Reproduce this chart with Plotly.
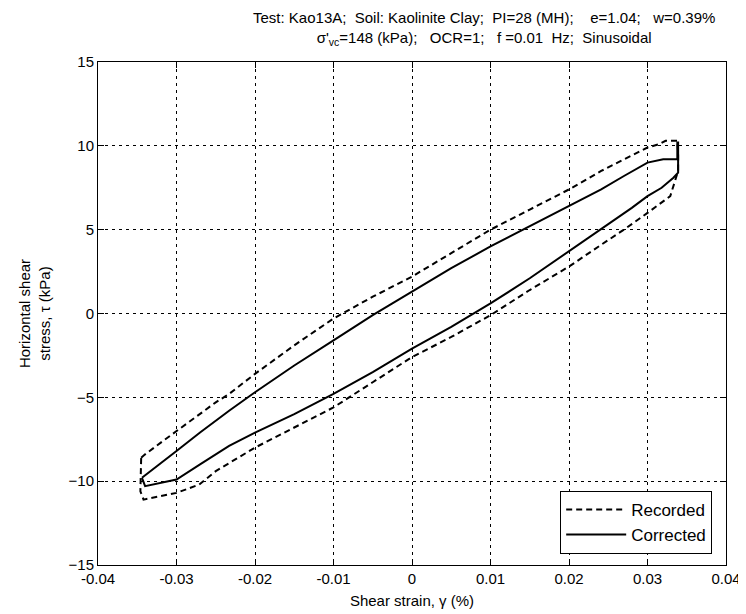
import plotly.graph_objects as go

# Recorded loop (dashed)
rec_x = [-0.0345, -0.0340, -0.0320, -0.0300, -0.0270, -0.0250, -0.0233, -0.0200, -0.0150, -0.0100,
         -0.0050, 0.0000, 0.0050, 0.0100, 0.0150, 0.0200, 0.0241, 0.0270, 0.0300, 0.0315,
         0.0323, 0.0338, 0.0339, 0.0339, 0.0337, 0.0329, 0.0300, 0.0270, 0.0241, 0.0200,
         0.0150, 0.0100, 0.0050, 0.0000, -0.0050, -0.0100, -0.0150, -0.0200, -0.0250, -0.0271,
         -0.0300, -0.0330, -0.0342, -0.0346, -0.0345]
rec_y = [-8.6, -8.4, -7.7, -7.0, -6.0, -5.3, -4.8, -3.6, -1.9, -0.3,
         1.0, 2.2, 3.6, 5.0, 6.2, 7.4, 8.5, 9.2, 9.9, 10.1,
         10.3, 10.3, 9.6, 8.5, 8.2, 7.0, 6.0, 5.0, 4.1, 2.8,
         1.4, -0.1, -1.4, -2.6, -4.1, -5.6, -6.8, -8.0, -9.4, -10.2,
         -10.7, -11.0, -11.1, -10.6, -8.6]

# Corrected loop (solid)
cor_x = [-0.0344, -0.0330, -0.0300, -0.0270, -0.0233, -0.0200, -0.0150, -0.0100, -0.0050, 0.0000,
         0.0050, 0.0100, 0.0150, 0.0200, 0.0241, 0.0270, 0.0300, 0.0320, 0.0338, 0.0338,
         0.0339, 0.0339, 0.0333, 0.0318, 0.0300, 0.0280, 0.0255, 0.0241, 0.0200, 0.0150,
         0.0100, 0.0050, 0.0000, -0.0050, -0.0100, -0.0150, -0.0200, -0.0233, -0.0270, -0.0300,
         -0.0340, -0.0344]
cor_y = [-9.8, -9.3, -8.2, -7.1, -5.8, -4.7, -3.1, -1.6, -0.1, 1.3,
         2.7, 4.0, 5.2, 6.4, 7.4, 8.2, 9.0, 9.2, 9.2, 10.2,
         10.2, 8.4, 8.1, 7.5, 7.0, 6.3, 5.5, 5.0, 3.7, 2.1,
         0.6, -0.8, -2.1, -3.5, -4.8, -6.0, -7.1, -7.9, -9.0, -9.9,
         -10.3, -9.8]

x_ticks = [-0.04, -0.03, -0.02, -0.01, 0, 0.01, 0.02, 0.03, 0.04]
x_labels = ["-0.04", "-0.03", "-0.02", "-0.01", "0", "0.01", "0.02", "0.03", "0.04"]
y_ticks = [-15, -10, -5, 0, 5, 10, 15]

FONT = "Liberation Sans, Arial, sans-serif"
NB = "\u00a0"

fig = go.Figure()
fig.add_trace(go.Scatter(x=rec_x, y=rec_y, mode="lines", name="Recorded",
                         line=dict(color="black", width=2, dash="6px,4px")))
fig.add_trace(go.Scatter(x=cor_x, y=cor_y, mode="lines", name="Corrected",
                         line=dict(color="black", width=2)))

title_text = ("Test: Kao13A;" + NB*2 + "Soil: Kaolinite Clay;" + NB*2 + "PI=28 (MH);" + NB*4 +
              "e=1.04;" + NB*3 + "w=0.39%<br>" +
              "σ'<sub>vc</sub>=148 (kPa);" + NB*3 + "OCR=1;" + NB*3 + "f =0.01" + NB*2 + "Hz;" + NB*2 + "Sinusoidal")

fig.add_annotation(text=title_text, xref="paper", yref="paper", x=0.615, y=1.0,
                   xanchor="center", yanchor="bottom", yshift=12, showarrow=False,
                   font=dict(family=FONT, size=15, color="black"), align="center")

axis_common = dict(showline=True, linecolor="black", linewidth=1, mirror="ticks",
                   ticks="inside", ticklen=6, tickcolor="black", automargin=False,
                   showgrid=True, gridcolor="black", gridwidth=1, griddash="3px,4px",
                   zeroline=False, tickfont=dict(family=FONT, size=15, color="black"))

fig.update_xaxes(range=[-0.04, 0.04], tickvals=x_ticks, ticktext=x_labels,
                 title=dict(text="Shear strain, γ (%)", font=dict(family=FONT, size=15, color="black"), standoff=9),
                 **axis_common)
fig.update_yaxes(range=[-15, 15], tickvals=y_ticks,
                 title=dict(text="Horizontal shear<br>stress, τ (kPa)", font=dict(family=FONT, size=15, color="black"), standoff=14),
                 **axis_common)

fig.update_layout(
    width=738, height=606,
    margin=dict(l=90, r=20, t=54, b=49),
    paper_bgcolor="white", plot_bgcolor="white",
    showlegend=True,
    legend=dict(x=0.978, y=0.022, xanchor="right", yanchor="bottom",
                bgcolor="white", bordercolor="black", borderwidth=1,
                font=dict(family=FONT, size=17, color="black"),
                tracegroupgap=0, traceorder="normal", itemwidth=60),
    font=dict(family=FONT, color="black"),
)

fig.write_html("out.html")
